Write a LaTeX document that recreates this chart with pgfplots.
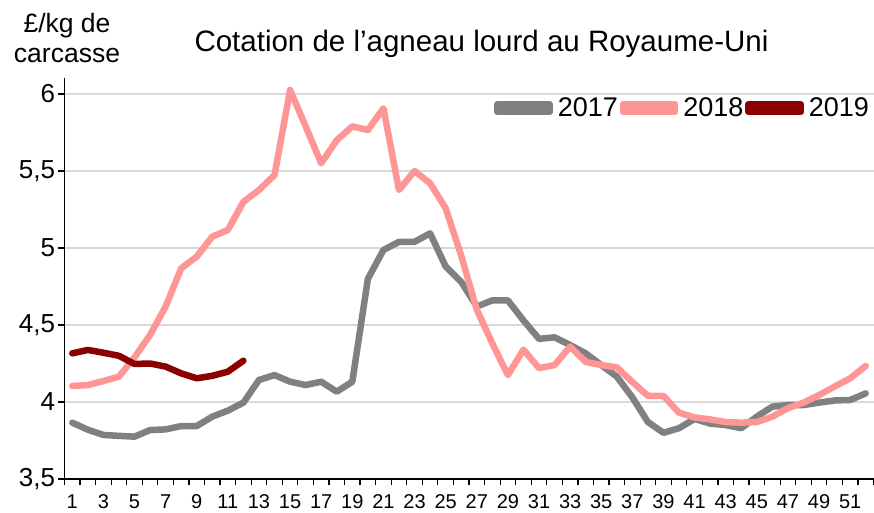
\documentclass[border=0pt]{standalone}
\usepackage{fontspec}
\setmainfont{Liberation Sans}
\usepackage{pgfplots}
\pgfplotsset{compat=1.18}
\definecolor{c17}{HTML}{808080}
\definecolor{c18}{HTML}{FF9696}
\definecolor{c19}{HTML}{8B0000}
\definecolor{gridc}{HTML}{D9D9D9}
\begin{document}
\begin{tikzpicture}
\useasboundingbox (-64.5bp,-34bp) rectangle (809.5bp,479bp);
\begin{axis}[
  at={(0,0)}, anchor=south west,
  scale only axis, width=809bp, height=401bp,
  xmin=0.5, xmax=52.5, ymin=3.5, ymax=6.104,
  axis lines=left, axis line style={-, black, line width=1.3bp},
  tick align=outside, major tick length=6bp,
  tick style={black, line width=1.2bp},
  ytick={3.5,4,4.5,5,5.5,6},
  yticklabel style={font=\fontsize{26bp}{30bp}\selectfont, /pgf/number format/use comma},
  /pgf/number format/assume math mode=true,
  ymajorgrids, grid style={gridc, line width=1.2bp},
  xtick={0.5,1.5,...,52.5}, xticklabels={},
  extra x ticks={1,3,5,7,9,11,13,15,17,19,21,23,25,27,29,31,33,35,37,39,41,43,45,47,49,51},
  extra x tick labels={1,3,5,7,9,11,13,15,17,19,21,23,25,27,29,31,33,35,37,39,41,43,45,47,49,51},
  extra x tick style={major tick length=0pt, tick label style={font=\fontsize{20bp}{24bp}\selectfont, yshift=-12bp}},
  legend columns=3,
  legend cell align=left,
  legend style={draw=none, fill=none, inner sep=0pt, outer sep=0pt,
    at={(axis description cs:0.9944,0.925)}, anchor=east,
    font=\fontsize{27bp}{30bp}\selectfont,
    nodes={inner sep=0pt, outer sep=0pt},
    /tikz/every even column/.append style={column sep=2bp},
    /tikz/every odd column/.append style={column sep=5bp}},
  legend image code/.code={\path (0,-4bp) rectangle (52bp,4bp); \draw[#1] (3.25bp,0) -- (48.75bp,0);},
  every axis plot/.append style={line width=6.5bp, line join=round, line cap=round},
]
\addplot[c17] coordinates {
(1,3.866)(2,3.82)(3,3.786)(4,3.78)(5,3.775)(6,3.818)(7,3.822)(8,3.844)(9,3.844)(10,3.905)
(11,3.944)(12,3.996)(13,4.143)(14,4.175)(15,4.132)(16,4.11)(17,4.132)(18,4.067)(19,4.132)(20,4.80)
(21,4.987)(22,5.04)(23,5.04)(24,5.095)(25,4.88)(26,4.78)(27,4.62)(28,4.66)(29,4.66)(30,4.53)
(31,4.41)(32,4.42)(33,4.37)(34,4.316)(35,4.24)(36,4.165)(37,4.03)(38,3.87)(39,3.80)(40,3.83)
(41,3.89)(42,3.86)(43,3.85)(44,3.83)(45,3.905)(46,3.97)(47,3.98)(48,3.98)(49,3.996)(50,4.01)
(51,4.013)(52,4.056)};
\addlegendentry{2017}
\addplot[c18] coordinates {
(1,4.104)(2,4.11)(3,4.136)(4,4.165)(5,4.29)(6,4.435)(7,4.62)(8,4.868)(9,4.944)(10,5.074)
(11,5.117)(12,5.30)(13,5.377)(14,5.474)(15,6.026)(16,5.79)(17,5.55)(18,5.70)(19,5.79)(20,5.766)
(21,5.907)(22,5.377)(23,5.50)(24,5.42)(25,5.258)(26,4.95)(27,4.60)(28,4.38)(29,4.175)(30,4.34)
(31,4.22)(32,4.24)(33,4.36)(34,4.26)(35,4.24)(36,4.225)(37,4.13)(38,4.04)(39,4.04)(40,3.93)
(41,3.90)(42,3.887)(43,3.87)(44,3.866)(45,3.87)(46,3.905)(47,3.96)(48,3.996)(49,4.045)(50,4.10)
(51,4.154)(52,4.234)};
\addlegendentry{2018}
\addplot[c19] coordinates {
(1,4.316)(2,4.338)(3,4.32)(4,4.30)(5,4.247)(6,4.25)(7,4.23)(8,4.186)(9,4.154)(10,4.17)
(11,4.197)(12,4.268)};
\addlegendentry{2019}
\end{axis}
\node[anchor=base, font=\fontsize{29.5bp}{35bp}\selectfont, inner sep=0pt] at (417bp,427.3bp) {Cotation de l’agneau lourd au Royaume-Uni};
\node[anchor=base, font=\fontsize{26.5bp}{30bp}\selectfont, inner sep=0pt] at (2.5bp,446bp) {£/kg de};
\node[anchor=base, font=\fontsize{26.5bp}{30bp}\selectfont, inner sep=0pt] at (2.5bp,416.3bp) {carcasse};
\end{tikzpicture}
\end{document}
